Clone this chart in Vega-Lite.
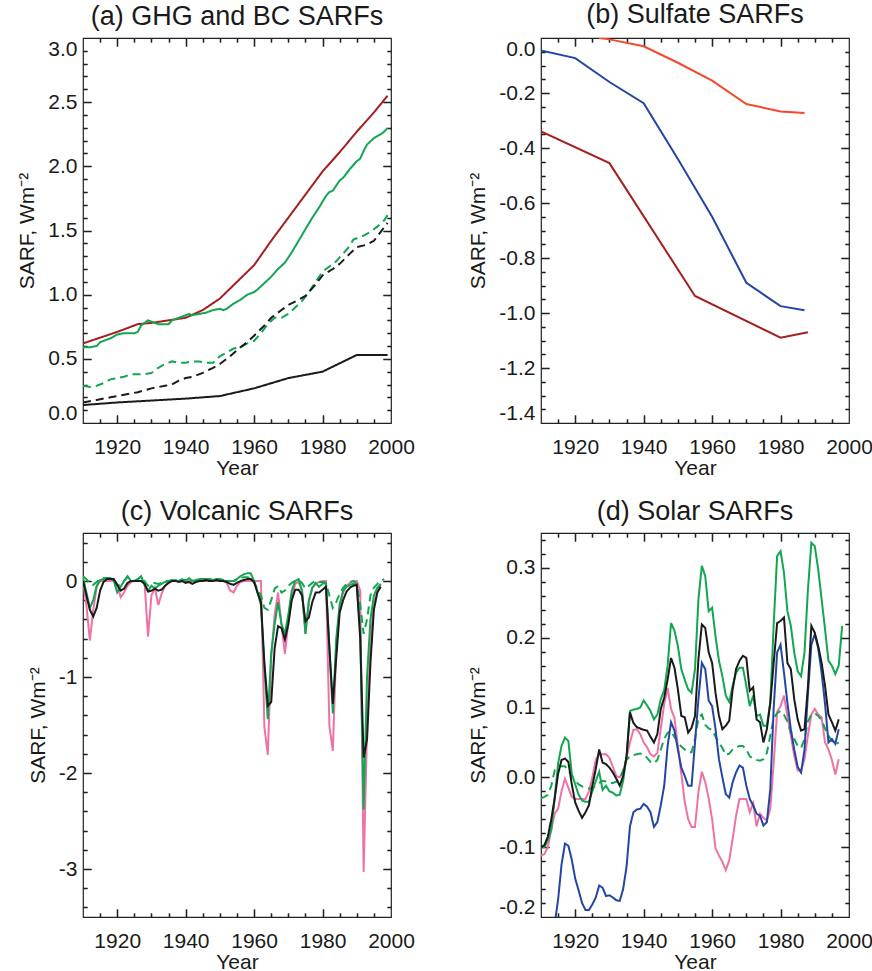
{
"$schema": "https://vega.github.io/schema/vega-lite/v6.json",
"background": "white",
"padding": {"left": 16, "top": 0, "right": 5, "bottom": 0},
"columns": 2,
"spacing": {"row": 18, "column": 52},
"resolve": {"scale": {"color": "independent", "strokeDash": "independent"}},
"config": {
  "font": "Liberation Sans",
  "view": {"stroke": "#222", "strokeWidth": 1.2},
  "title": {"font": "Liberation Sans", "fontSize": 27, "fontWeight": "normal", "color": "#1a1a1a", "offset": 6, "anchor": "middle"},
  "axis": {"domain": false, "grid": false, "tickColor": "#222", "tickWidth": 1.3, "gridColor": "#222", "gridWidth": 1.3, "gridOpacity": 1, "labelFont": "Liberation Sans", "labelFontSize": 21, "labelColor": "#1a1a1a", "titleFont": "Liberation Sans", "titleFontSize": 21, "titleFontWeight": "normal", "titleColor": "#1a1a1a", "labelFlush": false},
  "axisX": {"labelPadding": 13, "titlePadding": 0},
  "axisY": {"labelPadding": 6, "titlePadding": 10},
  "line": {"strokeWidth": 2}
},
"concat": [
{
 "width": 308, "height": 385,
 "title": "(a) GHG and BC SARFs",
 "data": {"name": "a"},
 "resolve": {"axis": {"x": "independent", "y": "independent"}},
 "layer": [
  {"mark": {"type": "line", "strokeWidth": 2, "clip": true},
   "encoding": {
    "x": {"field": "year", "type": "quantitative", "scale": {"domain": [1910, 2000], "nice": false, "zero": false}, "axis": {"orient": "bottom", "values": [1920,1940,1960,1980,2000], "format": "d", "title": "Year", "ticks": false, "tickSize": 0}},
    "y": {"field": "value", "type": "quantitative", "scale": {"domain": [0, 3], "nice": false, "zero": false}, "axis": {"orient": "left", "values": [0,0.5,1,1.5,2,2.5,3], "format": ".1f", "labelExpr": "replace(datum.label, '−', '-')", "labelFlush": true, "title": "SARF, Wm⁻²", "ticks": false, "tickSize": 0}},
    "color": {"field": "series", "type": "nominal", "scale": {"domain": ["red","green","greenDash","blackDash","black"], "range": ["#A41F1F","#12A650","#12A650","#1a1a1a","#1a1a1a"]}, "legend": null},
    "strokeDash": {"field": "series", "type": "nominal", "scale": {"domain": ["red","green","greenDash","blackDash","black"], "range": [[1,0],[1,0],[8,5],[8,5],[1,0]]}, "legend": null}
   }},
  {"mark": {"type": "point", "opacity": 0},
   "encoding": {
    "x": {"field": "year", "type": "quantitative", "axis": {"orient": "top", "values": [1920,1940,1960,1980], "labels": false, "title": null, "ticks": true, "tickSize": 8, "offset": -8, "grid": true, "gridDash": [8, 1000]}},
    "y": {"field": "value", "type": "quantitative", "axis": {"orient": "right", "values": [0.5,1,1.5,2,2.5], "labels": false, "title": null, "ticks": true, "tickSize": 8, "offset": -8, "grid": true, "gridDash": [8, 1000]}}
   }},
  {"mark": {"type": "point", "opacity": 0},
   "encoding": {
    "x": {"field": "year", "type": "quantitative", "axis": {"orient": "bottom", "values": [1920,1940,1960,1980], "labels": false, "title": null, "ticks": true, "tickSize": 8, "offset": -8, "grid": true, "gridDash": [8, 1000]}},
    "y": {"field": "value", "type": "quantitative", "axis": {"orient": "left", "values": [0.5,1,1.5,2,2.5], "labels": false, "title": null, "ticks": true, "tickSize": 8, "offset": -8, "grid": true, "gridDash": [8, 1000]}}
   }},
  {"mark": {"type": "point", "opacity": 0},
   "encoding": {
    "x": {"field": "year", "type": "quantitative", "axis": {"orient": "top", "values": [1915,1925,1930,1935,1945,1950,1955,1965,1970,1975,1985,1990,1995], "labels": false, "title": null, "ticks": true, "tickSize": 4, "offset": -4, "grid": true, "gridDash": [4, 1000]}},
    "y": {"field": "value", "type": "quantitative", "axis": {"orient": "right", "values": [0.1,0.2,0.3,0.4,0.6,0.7,0.8,0.9,1.1,1.2,1.3,1.4,1.6,1.7,1.8,1.9,2.1,2.2,2.3,2.4,2.6,2.7,2.8,2.9], "labels": false, "title": null, "ticks": true, "tickSize": 4, "offset": -4, "grid": true, "gridDash": [4, 1000]}}
   }},
  {"mark": {"type": "point", "opacity": 0},
   "encoding": {
    "x": {"field": "year", "type": "quantitative", "axis": {"orient": "bottom", "values": [1915,1925,1930,1935,1945,1950,1955,1965,1970,1975,1985,1990,1995], "labels": false, "title": null, "ticks": true, "tickSize": 4, "offset": -4, "grid": true, "gridDash": [4, 1000]}},
    "y": {"field": "value", "type": "quantitative", "axis": {"orient": "left", "values": [0.1,0.2,0.3,0.4,0.6,0.7,0.8,0.9,1.1,1.2,1.3,1.4,1.6,1.7,1.8,1.9,2.1,2.2,2.3,2.4,2.6,2.7,2.8,2.9], "labels": false, "title": null, "ticks": true, "tickSize": 4, "offset": -4, "grid": true, "gridDash": [4, 1000]}}
   }}
 ]
},
{
 "width": 308, "height": 385,
 "title": "(b) Sulfate SARFs",
 "data": {"name": "b"},
 "resolve": {"axis": {"x": "independent", "y": "independent"}},
 "layer": [
  {"mark": {"type": "line", "strokeWidth": 2, "clip": true},
   "encoding": {
    "x": {"field": "year", "type": "quantitative", "scale": {"domain": [1910, 2000], "nice": false, "zero": false}, "axis": {"orient": "bottom", "values": [1920,1940,1960,1980,2000], "format": "d", "title": "Year", "ticks": false, "tickSize": 0}},
    "y": {"field": "value", "type": "quantitative", "scale": {"domain": [-1.4, 0], "nice": false, "zero": false}, "axis": {"orient": "left", "values": [0,-0.2,-0.4,-0.6,-0.8,-1,-1.2,-1.4], "format": ".1f", "labelExpr": "replace(datum.label, '−', '-')", "labelFlush": true, "title": "SARF, Wm⁻²", "ticks": false, "tickSize": 0}},
    "color": {"field": "series", "type": "nominal", "scale": {"domain": ["orange","blue","red"], "range": ["#F4492D","#2446A3","#A41F1F"]}, "legend": null}
   }},
  {"mark": {"type": "point", "opacity": 0},
   "encoding": {
    "x": {"field": "year", "type": "quantitative", "axis": {"orient": "top", "values": [1920,1940,1960,1980], "labels": false, "title": null, "ticks": true, "tickSize": 8, "offset": -8, "grid": true, "gridDash": [8, 1000]}},
    "y": {"field": "value", "type": "quantitative", "axis": {"orient": "right", "values": [-0.2,-0.4,-0.6,-0.8,-1,-1.2], "labels": false, "title": null, "ticks": true, "tickSize": 8, "offset": -8, "grid": true, "gridDash": [8, 1000]}}
   }},
  {"mark": {"type": "point", "opacity": 0},
   "encoding": {
    "x": {"field": "year", "type": "quantitative", "axis": {"orient": "bottom", "values": [1920,1940,1960,1980], "labels": false, "title": null, "ticks": true, "tickSize": 8, "offset": -8, "grid": true, "gridDash": [8, 1000]}},
    "y": {"field": "value", "type": "quantitative", "axis": {"orient": "left", "values": [-0.2,-0.4,-0.6,-0.8,-1,-1.2], "labels": false, "title": null, "ticks": true, "tickSize": 8, "offset": -8, "grid": true, "gridDash": [8, 1000]}}
   }},
  {"mark": {"type": "point", "opacity": 0},
   "encoding": {
    "x": {"field": "year", "type": "quantitative", "axis": {"orient": "top", "values": [1915,1925,1930,1935,1945,1950,1955,1965,1970,1975,1985,1990,1995], "labels": false, "title": null, "ticks": true, "tickSize": 4, "offset": -4, "grid": true, "gridDash": [4, 1000]}},
    "y": {"field": "value", "type": "quantitative", "axis": {"orient": "right", "values": [-0.05,-0.1,-0.15,-0.25,-0.3,-0.35,-0.45,-0.5,-0.55,-0.65,-0.7,-0.75,-0.85,-0.9,-0.95,-1.05,-1.1,-1.15,-1.25,-1.3,-1.35], "labels": false, "title": null, "ticks": true, "tickSize": 4, "offset": -4, "grid": true, "gridDash": [4, 1000]}}
   }},
  {"mark": {"type": "point", "opacity": 0},
   "encoding": {
    "x": {"field": "year", "type": "quantitative", "axis": {"orient": "bottom", "values": [1915,1925,1930,1935,1945,1950,1955,1965,1970,1975,1985,1990,1995], "labels": false, "title": null, "ticks": true, "tickSize": 4, "offset": -4, "grid": true, "gridDash": [4, 1000]}},
    "y": {"field": "value", "type": "quantitative", "axis": {"orient": "left", "values": [-0.05,-0.1,-0.15,-0.25,-0.3,-0.35,-0.45,-0.5,-0.55,-0.65,-0.7,-0.75,-0.85,-0.9,-0.95,-1.05,-1.1,-1.15,-1.25,-1.3,-1.35], "labels": false, "title": null, "ticks": true, "tickSize": 4, "offset": -4, "grid": true, "gridDash": [4, 1000]}}
   }}
 ]
},
{
 "width": 308, "height": 384,
 "title": "(c) Volcanic SARFs",
 "data": {"name": "c"},
 "resolve": {"axis": {"x": "independent", "y": "independent"}},
 "layer": [
  {"mark": {"type": "line", "strokeWidth": 2, "clip": true},
   "encoding": {
    "x": {"field": "year", "type": "quantitative", "scale": {"domain": [1910, 2000], "nice": false, "zero": false}, "axis": {"orient": "bottom", "values": [1920,1940,1960,1980,2000], "format": "d", "title": "Year", "ticks": false, "tickSize": 0}},
    "y": {"field": "value", "type": "quantitative", "scale": {"domain": [-3.5, 0.5], "nice": false, "zero": false}, "axis": {"orient": "left", "values": [0,-1,-2,-3], "format": "d", "labelExpr": "replace(datum.label, '−', '-')", "labelFlush": true, "title": "SARF, Wm⁻²", "ticks": false, "tickSize": 0}},
    "color": {"field": "series", "type": "nominal", "scale": {"domain": ["pink","greenDash","green","black"], "range": ["#EE72A6","#12A650","#12A650","#1a1a1a"]}, "legend": null},
    "strokeDash": {"field": "series", "type": "nominal", "scale": {"domain": ["pink","greenDash","green","black"], "range": [[1,0],[8,5],[1,0],[1,0]]}, "legend": null}
   }},
  {"mark": {"type": "point", "opacity": 0},
   "encoding": {
    "x": {"field": "year", "type": "quantitative", "axis": {"orient": "top", "values": [1920,1940,1960,1980], "labels": false, "title": null, "ticks": true, "tickSize": 8, "offset": -8, "grid": true, "gridDash": [8, 1000]}},
    "y": {"field": "value", "type": "quantitative", "axis": {"orient": "right", "values": [0,-1,-2,-3], "labels": false, "title": null, "ticks": true, "tickSize": 8, "offset": -8, "grid": true, "gridDash": [8, 1000]}}
   }},
  {"mark": {"type": "point", "opacity": 0},
   "encoding": {
    "x": {"field": "year", "type": "quantitative", "axis": {"orient": "bottom", "values": [1920,1940,1960,1980], "labels": false, "title": null, "ticks": true, "tickSize": 8, "offset": -8, "grid": true, "gridDash": [8, 1000]}},
    "y": {"field": "value", "type": "quantitative", "axis": {"orient": "left", "values": [0,-1,-2,-3], "labels": false, "title": null, "ticks": true, "tickSize": 8, "offset": -8, "grid": true, "gridDash": [8, 1000]}}
   }},
  {"mark": {"type": "point", "opacity": 0},
   "encoding": {
    "x": {"field": "year", "type": "quantitative", "axis": {"orient": "top", "values": [1915,1925,1930,1935,1945,1950,1955,1965,1970,1975,1985,1990,1995], "labels": false, "title": null, "ticks": true, "tickSize": 4, "offset": -4, "grid": true, "gridDash": [4, 1000]}},
    "y": {"field": "value", "type": "quantitative", "axis": {"orient": "right", "values": [0.4,0.2,-0.2,-0.4,-0.6,-0.8,-1.2,-1.4,-1.6,-1.8,-2.2,-2.4,-2.6,-2.8,-3.2,-3.4], "labels": false, "title": null, "ticks": true, "tickSize": 4, "offset": -4, "grid": true, "gridDash": [4, 1000]}}
   }},
  {"mark": {"type": "point", "opacity": 0},
   "encoding": {
    "x": {"field": "year", "type": "quantitative", "axis": {"orient": "bottom", "values": [1915,1925,1930,1935,1945,1950,1955,1965,1970,1975,1985,1990,1995], "labels": false, "title": null, "ticks": true, "tickSize": 4, "offset": -4, "grid": true, "gridDash": [4, 1000]}},
    "y": {"field": "value", "type": "quantitative", "axis": {"orient": "left", "values": [0.4,0.2,-0.2,-0.4,-0.6,-0.8,-1.2,-1.4,-1.6,-1.8,-2.2,-2.4,-2.6,-2.8,-3.2,-3.4], "labels": false, "title": null, "ticks": true, "tickSize": 4, "offset": -4, "grid": true, "gridDash": [4, 1000]}}
   }}
 ]
},
{
 "width": 308, "height": 384,
 "title": "(d) Solar SARFs",
 "data": {"name": "d"},
 "resolve": {"axis": {"x": "independent", "y": "independent"}},
 "layer": [
  {"mark": {"type": "line", "strokeWidth": 2, "clip": true},
   "encoding": {
    "x": {"field": "year", "type": "quantitative", "scale": {"domain": [1910, 2000], "nice": false, "zero": false}, "axis": {"orient": "bottom", "values": [1920,1940,1960,1980,2000], "format": "d", "title": "Year", "ticks": false, "tickSize": 0}},
    "y": {"field": "value", "type": "quantitative", "scale": {"domain": [-0.2, 0.35], "nice": false, "zero": false}, "axis": {"orient": "left", "values": [0.3,0.2,0.1,0,-0.1,-0.2], "format": ".1f", "labelExpr": "replace(datum.label, '−', '-')", "labelFlush": true, "title": "SARF, Wm⁻²", "ticks": false, "tickSize": 0}},
    "color": {"field": "series", "type": "nominal", "scale": {"domain": ["pink","greenDash","blue","green","black"], "range": ["#EE72A6","#12A650","#2446A3","#12A650","#1a1a1a"]}, "legend": null},
    "strokeDash": {"field": "series", "type": "nominal", "scale": {"domain": ["pink","greenDash","blue","green","black"], "range": [[1,0],[8,5],[1,0],[1,0],[1,0]]}, "legend": null}
   }},
  {"mark": {"type": "point", "opacity": 0},
   "encoding": {
    "x": {"field": "year", "type": "quantitative", "axis": {"orient": "top", "values": [1920,1940,1960,1980], "labels": false, "title": null, "ticks": true, "tickSize": 8, "offset": -8, "grid": true, "gridDash": [8, 1000]}},
    "y": {"field": "value", "type": "quantitative", "axis": {"orient": "right", "values": [0.3,0.2,0.1,0,-0.1], "labels": false, "title": null, "ticks": true, "tickSize": 8, "offset": -8, "grid": true, "gridDash": [8, 1000]}}
   }},
  {"mark": {"type": "point", "opacity": 0},
   "encoding": {
    "x": {"field": "year", "type": "quantitative", "axis": {"orient": "bottom", "values": [1920,1940,1960,1980], "labels": false, "title": null, "ticks": true, "tickSize": 8, "offset": -8, "grid": true, "gridDash": [8, 1000]}},
    "y": {"field": "value", "type": "quantitative", "axis": {"orient": "left", "values": [0.3,0.2,0.1,0,-0.1], "labels": false, "title": null, "ticks": true, "tickSize": 8, "offset": -8, "grid": true, "gridDash": [8, 1000]}}
   }},
  {"mark": {"type": "point", "opacity": 0},
   "encoding": {
    "x": {"field": "year", "type": "quantitative", "axis": {"orient": "top", "values": [1915,1925,1930,1935,1945,1950,1955,1965,1970,1975,1985,1990,1995], "labels": false, "title": null, "ticks": true, "tickSize": 4, "offset": -4, "grid": true, "gridDash": [4, 1000]}},
    "y": {"field": "value", "type": "quantitative", "axis": {"orient": "right", "values": [0.34,0.32,0.28,0.26,0.24,0.22,0.18,0.16,0.14,0.12,0.08,0.06,0.04,0.02,-0.02,-0.04,-0.06,-0.08,-0.12,-0.14,-0.16,-0.18], "labels": false, "title": null, "ticks": true, "tickSize": 4, "offset": -4, "grid": true, "gridDash": [4, 1000]}}
   }},
  {"mark": {"type": "point", "opacity": 0},
   "encoding": {
    "x": {"field": "year", "type": "quantitative", "axis": {"orient": "bottom", "values": [1915,1925,1930,1935,1945,1950,1955,1965,1970,1975,1985,1990,1995], "labels": false, "title": null, "ticks": true, "tickSize": 4, "offset": -4, "grid": true, "gridDash": [4, 1000]}},
    "y": {"field": "value", "type": "quantitative", "axis": {"orient": "left", "values": [0.34,0.32,0.28,0.26,0.24,0.22,0.18,0.16,0.14,0.12,0.08,0.06,0.04,0.02,-0.02,-0.04,-0.06,-0.08,-0.12,-0.14,-0.16,-0.18], "labels": false, "title": null, "ticks": true, "tickSize": 4, "offset": -4, "grid": true, "gridDash": [4, 1000]}}
   }}
 ]
}
],
"datasets": {
"a": [
{"series":"red","year":1910,"value":0.62},{"series":"red","year":1915,"value":0.665},{"series":"red","year":1920,"value":0.71},{"series":"red","year":1926,"value":0.77},{"series":"red","year":1930,"value":0.78},{"series":"red","year":1935,"value":0.80},{"series":"red","year":1940,"value":0.82},{"series":"red","year":1945,"value":0.88},{"series":"red","year":1950,"value":0.97},{"series":"red","year":1955,"value":1.10},{"series":"red","year":1960,"value":1.23},{"series":"red","year":1965,"value":1.42},{"series":"red","year":1970,"value":1.60},{"series":"red","year":1975,"value":1.78},{"series":"red","year":1980,"value":1.96},{"series":"red","year":1985,"value":2.11},{"series":"red","year":1990,"value":2.27},{"series":"red","year":1995,"value":2.42},{"series":"red","year":1999,"value":2.55},
{"series":"green","year":1910,"value":0.59},{"series":"green","year":1912,"value":0.59},{"series":"green","year":1914,"value":0.60},{"series":"green","year":1915,"value":0.63},{"series":"green","year":1917,"value":0.65},{"series":"green","year":1918,"value":0.66},{"series":"green","year":1920,"value":0.69},{"series":"green","year":1922,"value":0.70},{"series":"green","year":1925,"value":0.70},{"series":"green","year":1926,"value":0.71},{"series":"green","year":1927,"value":0.76},{"series":"green","year":1929,"value":0.80},{"series":"green","year":1930,"value":0.79},{"series":"green","year":1932,"value":0.77},{"series":"green","year":1935,"value":0.77},{"series":"green","year":1936,"value":0.80},{"series":"green","year":1938,"value":0.82},{"series":"green","year":1940,"value":0.84},{"series":"green","year":1941,"value":0.85},{"series":"green","year":1942,"value":0.84},{"series":"green","year":1944,"value":0.85},{"series":"green","year":1946,"value":0.86},{"series":"green","year":1948,"value":0.88},{"series":"green","year":1950,"value":0.89},{"series":"green","year":1951,"value":0.88},{"series":"green","year":1952,"value":0.89},{"series":"green","year":1954,"value":0.93},{"series":"green","year":1956,"value":0.96},{"series":"green","year":1958,"value":1.00},{"series":"green","year":1960,"value":1.02},{"series":"green","year":1961,"value":1.04},{"series":"green","year":1963,"value":1.09},{"series":"green","year":1965,"value":1.14},{"series":"green","year":1967,"value":1.20},{"series":"green","year":1969,"value":1.25},{"series":"green","year":1971,"value":1.33},{"series":"green","year":1973,"value":1.42},{"series":"green","year":1975,"value":1.51},{"series":"green","year":1977,"value":1.60},{"series":"green","year":1979,"value":1.68},{"series":"green","year":1981,"value":1.77},{"series":"green","year":1982,"value":1.80},{"series":"green","year":1983,"value":1.81},{"series":"green","year":1985,"value":1.89},{"series":"green","year":1986,"value":1.91},{"series":"green","year":1988,"value":1.98},{"series":"green","year":1990,"value":2.04},{"series":"green","year":1991,"value":2.06},{"series":"green","year":1992,"value":2.12},{"series":"green","year":1993,"value":2.17},{"series":"green","year":1995,"value":2.22},{"series":"green","year":1997,"value":2.25},{"series":"green","year":1998,"value":2.27},{"series":"green","year":1999,"value":2.30},
{"series":"greenDash","year":1910,"value":0.29},{"series":"greenDash","year":1912,"value":0.28},{"series":"greenDash","year":1914,"value":0.29},{"series":"greenDash","year":1916,"value":0.31},{"series":"greenDash","year":1918,"value":0.34},{"series":"greenDash","year":1920,"value":0.35},{"series":"greenDash","year":1922,"value":0.36},{"series":"greenDash","year":1924,"value":0.38},{"series":"greenDash","year":1926,"value":0.38},{"series":"greenDash","year":1928,"value":0.38},{"series":"greenDash","year":1930,"value":0.39},{"series":"greenDash","year":1932,"value":0.43},{"series":"greenDash","year":1934,"value":0.46},{"series":"greenDash","year":1936,"value":0.48},{"series":"greenDash","year":1938,"value":0.47},{"series":"greenDash","year":1940,"value":0.47},{"series":"greenDash","year":1942,"value":0.48},{"series":"greenDash","year":1944,"value":0.48},{"series":"greenDash","year":1946,"value":0.47},{"series":"greenDash","year":1948,"value":0.47},{"series":"greenDash","year":1950,"value":0.52},{"series":"greenDash","year":1952,"value":0.55},{"series":"greenDash","year":1954,"value":0.58},{"series":"greenDash","year":1956,"value":0.59},{"series":"greenDash","year":1958,"value":0.62},{"series":"greenDash","year":1960,"value":0.64},{"series":"greenDash","year":1962,"value":0.70},{"series":"greenDash","year":1964,"value":0.77},{"series":"greenDash","year":1966,"value":0.82},{"series":"greenDash","year":1968,"value":0.82},{"series":"greenDash","year":1970,"value":0.85},{"series":"greenDash","year":1972,"value":0.90},{"series":"greenDash","year":1974,"value":0.95},{"series":"greenDash","year":1976,"value":1.02},{"series":"greenDash","year":1978,"value":1.10},{"series":"greenDash","year":1980,"value":1.18},{"series":"greenDash","year":1982,"value":1.22},{"series":"greenDash","year":1984,"value":1.26},{"series":"greenDash","year":1986,"value":1.32},{"series":"greenDash","year":1988,"value":1.38},{"series":"greenDash","year":1989,"value":1.43},{"series":"greenDash","year":1990,"value":1.44},{"series":"greenDash","year":1992,"value":1.46},{"series":"greenDash","year":1994,"value":1.49},{"series":"greenDash","year":1996,"value":1.53},{"series":"greenDash","year":1998,"value":1.58},{"series":"greenDash","year":1999,"value":1.62},
{"series":"blackDash","year":1910,"value":0.16},{"series":"blackDash","year":1914,"value":0.18},{"series":"blackDash","year":1918,"value":0.20},{"series":"blackDash","year":1922,"value":0.22},{"series":"blackDash","year":1926,"value":0.24},{"series":"blackDash","year":1930,"value":0.27},{"series":"blackDash","year":1934,"value":0.29},{"series":"blackDash","year":1936,"value":0.30},{"series":"blackDash","year":1938,"value":0.33},{"series":"blackDash","year":1940,"value":0.35},{"series":"blackDash","year":1942,"value":0.36},{"series":"blackDash","year":1945,"value":0.39},{"series":"blackDash","year":1948,"value":0.43},{"series":"blackDash","year":1950,"value":0.46},{"series":"blackDash","year":1953,"value":0.52},{"series":"blackDash","year":1956,"value":0.59},{"series":"blackDash","year":1958,"value":0.63},{"series":"blackDash","year":1960,"value":0.68},{"series":"blackDash","year":1963,"value":0.76},{"series":"blackDash","year":1965,"value":0.82},{"series":"blackDash","year":1968,"value":0.88},{"series":"blackDash","year":1970,"value":0.92},{"series":"blackDash","year":1973,"value":0.96},{"series":"blackDash","year":1975,"value":0.99},{"series":"blackDash","year":1978,"value":1.08},{"series":"blackDash","year":1980,"value":1.15},{"series":"blackDash","year":1983,"value":1.20},{"series":"blackDash","year":1985,"value":1.24},{"series":"blackDash","year":1988,"value":1.32},{"series":"blackDash","year":1990,"value":1.37},{"series":"blackDash","year":1993,"value":1.39},{"series":"blackDash","year":1995,"value":1.42},{"series":"blackDash","year":1997,"value":1.49},{"series":"blackDash","year":1999,"value":1.56},
{"series":"black","year":1910,"value":0.14},{"series":"black","year":1920,"value":0.16},{"series":"black","year":1930,"value":0.175},{"series":"black","year":1940,"value":0.19},{"series":"black","year":1950,"value":0.21},{"series":"black","year":1960,"value":0.27},{"series":"black","year":1970,"value":0.35},{"series":"black","year":1980,"value":0.40},{"series":"black","year":1990,"value":0.53},{"series":"black","year":1999,"value":0.53}
],
"b": [
{"series":"orange","year":1927,"value":0.0},{"series":"orange","year":1930,"value":-0.005},{"series":"orange","year":1940,"value":-0.03},{"series":"orange","year":1950,"value":-0.09},{"series":"orange","year":1960,"value":-0.155},{"series":"orange","year":1970,"value":-0.24},{"series":"orange","year":1980,"value":-0.267},{"series":"orange","year":1987,"value":-0.273},
{"series":"blue","year":1910,"value":-0.045},{"series":"blue","year":1920,"value":-0.073},{"series":"blue","year":1930,"value":-0.16},{"series":"blue","year":1940,"value":-0.237},{"series":"blue","year":1950,"value":-0.44},{"series":"blue","year":1960,"value":-0.65},{"series":"blue","year":1970,"value":-0.89},{"series":"blue","year":1980,"value":-0.975},{"series":"blue","year":1987,"value":-0.99},
{"series":"red","year":1910,"value":-0.34},{"series":"red","year":1930,"value":-0.455},{"series":"red","year":1955,"value":-0.938},{"series":"red","year":1980,"value":-1.09},{"series":"red","year":1988,"value":-1.07}
],
"c": [
{"series":"pink","year":1910,"value":0},{"series":"pink","year":1911,"value":-0.25},{"series":"pink","year":1912,"value":-0.62},{"series":"pink","year":1913,"value":-0.3},{"series":"pink","year":1914,"value":-0.06},{"series":"pink","year":1915,"value":0},{"series":"pink","year":1916,"value":0},{"series":"pink","year":1917,"value":0},{"series":"pink","year":1918,"value":0},{"series":"pink","year":1919,"value":0},{"series":"pink","year":1920,"value":-0.03},{"series":"pink","year":1921,"value":-0.17},{"series":"pink","year":1922,"value":-0.12},{"series":"pink","year":1923,"value":-0.05},{"series":"pink","year":1924,"value":-0.01},{"series":"pink","year":1925,"value":0},{"series":"pink","year":1926,"value":0},{"series":"pink","year":1927,"value":0},{"series":"pink","year":1928,"value":-0.02},{"series":"pink","year":1929,"value":-0.58},{"series":"pink","year":1930,"value":-0.15},{"series":"pink","year":1931,"value":-0.07},{"series":"pink","year":1932,"value":-0.25},{"series":"pink","year":1933,"value":-0.13},{"series":"pink","year":1934,"value":-0.05},{"series":"pink","year":1935,"value":-0.01},{"series":"pink","year":1936,"value":0},{"series":"pink","year":1937,"value":0},{"series":"pink","year":1938,"value":0},{"series":"pink","year":1939,"value":0},{"series":"pink","year":1940,"value":0},{"series":"pink","year":1941,"value":0},{"series":"pink","year":1942,"value":0},{"series":"pink","year":1943,"value":0},{"series":"pink","year":1944,"value":0},{"series":"pink","year":1945,"value":0},{"series":"pink","year":1946,"value":0},{"series":"pink","year":1947,"value":0},{"series":"pink","year":1948,"value":0},{"series":"pink","year":1949,"value":0},{"series":"pink","year":1950,"value":0},{"series":"pink","year":1951,"value":0},{"series":"pink","year":1952,"value":-0.02},{"series":"pink","year":1953,"value":-0.1},{"series":"pink","year":1954,"value":-0.12},{"series":"pink","year":1955,"value":-0.05},{"series":"pink","year":1956,"value":-0.01},{"series":"pink","year":1957,"value":0},{"series":"pink","year":1958,"value":0},{"series":"pink","year":1959,"value":0},{"series":"pink","year":1960,"value":0},{"series":"pink","year":1961,"value":0},{"series":"pink","year":1962,"value":0},{"series":"pink","year":1963,"value":-1.52},{"series":"pink","year":1964,"value":-1.81},{"series":"pink","year":1965,"value":-0.8},{"series":"pink","year":1966,"value":-0.35},{"series":"pink","year":1967,"value":-0.12},{"series":"pink","year":1968,"value":-0.45},{"series":"pink","year":1969,"value":-0.76},{"series":"pink","year":1970,"value":-0.43},{"series":"pink","year":1971,"value":-0.17},{"series":"pink","year":1972,"value":-0.03},{"series":"pink","year":1973,"value":-0.01},{"series":"pink","year":1974,"value":-0.1},{"series":"pink","year":1975,"value":-0.55},{"series":"pink","year":1976,"value":-0.22},{"series":"pink","year":1977,"value":-0.07},{"series":"pink","year":1978,"value":-0.03},{"series":"pink","year":1979,"value":-0.01},{"series":"pink","year":1980,"value":0},{"series":"pink","year":1981,"value":0},{"series":"pink","year":1982,"value":-1.51},{"series":"pink","year":1983,"value":-1.77},{"series":"pink","year":1984,"value":-0.7},{"series":"pink","year":1985,"value":-0.25},{"series":"pink","year":1986,"value":-0.12},{"series":"pink","year":1987,"value":-0.05},{"series":"pink","year":1988,"value":-0.02},{"series":"pink","year":1989,"value":0},{"series":"pink","year":1990,"value":0},{"series":"pink","year":1991,"value":-0.1},{"series":"pink","year":1992,"value":-3.03},{"series":"pink","year":1993,"value":-1.55},{"series":"pink","year":1994,"value":-0.6},{"series":"pink","year":1995,"value":-0.25},{"series":"pink","year":1996,"value":-0.1},{"series":"pink","year":1997,"value":-0.04},
{"series":"greenDash","year":1910,"value":0.05},{"series":"greenDash","year":1911,"value":0.02},{"series":"greenDash","year":1912,"value":-0.03},{"series":"greenDash","year":1913,"value":-0.04},{"series":"greenDash","year":1914,"value":-0.01},{"series":"greenDash","year":1915,"value":0.02},{"series":"greenDash","year":1916,"value":0.03},{"series":"greenDash","year":1917,"value":0.03},{"series":"greenDash","year":1918,"value":0.03},{"series":"greenDash","year":1919,"value":0.02},{"series":"greenDash","year":1920,"value":-0.05},{"series":"greenDash","year":1921,"value":-0.04},{"series":"greenDash","year":1922,"value":0.0},{"series":"greenDash","year":1923,"value":0.04},{"series":"greenDash","year":1924,"value":0.02},{"series":"greenDash","year":1925,"value":0.0},{"series":"greenDash","year":1926,"value":0.02},{"series":"greenDash","year":1927,"value":0.04},{"series":"greenDash","year":1928,"value":0.0},{"series":"greenDash","year":1929,"value":-0.05},{"series":"greenDash","year":1930,"value":-0.03},{"series":"greenDash","year":1931,"value":-0.02},{"series":"greenDash","year":1932,"value":-0.03},{"series":"greenDash","year":1933,"value":-0.02},{"series":"greenDash","year":1934,"value":0.0},{"series":"greenDash","year":1935,"value":0.0},{"series":"greenDash","year":1936,"value":0.01},{"series":"greenDash","year":1937,"value":0.01},{"series":"greenDash","year":1938,"value":0.0},{"series":"greenDash","year":1939,"value":0.01},{"series":"greenDash","year":1940,"value":0.01},{"series":"greenDash","year":1941,"value":0.02},{"series":"greenDash","year":1942,"value":0.0},{"series":"greenDash","year":1943,"value":0.01},{"series":"greenDash","year":1944,"value":0.02},{"series":"greenDash","year":1945,"value":0.02},{"series":"greenDash","year":1946,"value":0.02},{"series":"greenDash","year":1947,"value":0.02},{"series":"greenDash","year":1948,"value":0.02},{"series":"greenDash","year":1949,"value":0.02},{"series":"greenDash","year":1950,"value":0.02},{"series":"greenDash","year":1951,"value":0.01},{"series":"greenDash","year":1952,"value":0.01},{"series":"greenDash","year":1953,"value":0.0},{"series":"greenDash","year":1954,"value":0.0},{"series":"greenDash","year":1955,"value":0.01},{"series":"greenDash","year":1956,"value":0.03},{"series":"greenDash","year":1957,"value":0.04},{"series":"greenDash","year":1958,"value":0.04},{"series":"greenDash","year":1959,"value":0.03},{"series":"greenDash","year":1960,"value":-0.02},{"series":"greenDash","year":1961,"value":-0.08},{"series":"greenDash","year":1962,"value":-0.15},{"series":"greenDash","year":1963,"value":-0.28},{"series":"greenDash","year":1964,"value":-0.3},{"series":"greenDash","year":1965,"value":-0.2},{"series":"greenDash","year":1966,"value":-0.08},{"series":"greenDash","year":1967,"value":-0.05},{"series":"greenDash","year":1968,"value":-0.12},{"series":"greenDash","year":1969,"value":-0.1},{"series":"greenDash","year":1970,"value":-0.05},{"series":"greenDash","year":1971,"value":-0.02},{"series":"greenDash","year":1972,"value":0.0},{"series":"greenDash","year":1973,"value":0.01},{"series":"greenDash","year":1974,"value":-0.02},{"series":"greenDash","year":1975,"value":-0.08},{"series":"greenDash","year":1976,"value":-0.05},{"series":"greenDash","year":1977,"value":-0.02},{"series":"greenDash","year":1978,"value":0.0},{"series":"greenDash","year":1979,"value":-0.01},{"series":"greenDash","year":1980,"value":-0.01},{"series":"greenDash","year":1981,"value":-0.02},{"series":"greenDash","year":1982,"value":-0.15},{"series":"greenDash","year":1983,"value":-0.28},{"series":"greenDash","year":1984,"value":-0.22},{"series":"greenDash","year":1985,"value":-0.13},{"series":"greenDash","year":1986,"value":-0.07},{"series":"greenDash","year":1987,"value":-0.03},{"series":"greenDash","year":1988,"value":-0.01},{"series":"greenDash","year":1989,"value":0.0},{"series":"greenDash","year":1990,"value":-0.03},{"series":"greenDash","year":1991,"value":-0.25},{"series":"greenDash","year":1992,"value":-0.55},{"series":"greenDash","year":1993,"value":-0.4},{"series":"greenDash","year":1994,"value":-0.15},{"series":"greenDash","year":1995,"value":-0.07},{"series":"greenDash","year":1996,"value":-0.03},{"series":"greenDash","year":1997,"value":0.0},{"series":"greenDash","year":1998,"value":0.02},
{"series":"green","year":1910,"value":0.04},{"series":"green","year":1911,"value":-0.12},{"series":"green","year":1912,"value":-0.28},{"series":"green","year":1913,"value":-0.2},{"series":"green","year":1914,"value":-0.05},{"series":"green","year":1915,"value":0.01},{"series":"green","year":1916,"value":0.02},{"series":"green","year":1917,"value":0.03},{"series":"green","year":1918,"value":0.03},{"series":"green","year":1919,"value":0.0},{"series":"green","year":1920,"value":-0.12},{"series":"green","year":1921,"value":-0.06},{"series":"green","year":1922,"value":0.0},{"series":"green","year":1923,"value":0.05},{"series":"green","year":1924,"value":0.0},{"series":"green","year":1925,"value":0.0},{"series":"green","year":1926,"value":0.02},{"series":"green","year":1927,"value":0.05},{"series":"green","year":1928,"value":-0.04},{"series":"green","year":1929,"value":-0.1},{"series":"green","year":1930,"value":-0.05},{"series":"green","year":1931,"value":-0.08},{"series":"green","year":1932,"value":-0.05},{"series":"green","year":1933,"value":-0.03},{"series":"green","year":1934,"value":-0.01},{"series":"green","year":1935,"value":0.0},{"series":"green","year":1936,"value":0.0},{"series":"green","year":1937,"value":0.01},{"series":"green","year":1938,"value":0.0},{"series":"green","year":1939,"value":0.02},{"series":"green","year":1940,"value":0.0},{"series":"green","year":1941,"value":0.03},{"series":"green","year":1942,"value":0.0},{"series":"green","year":1943,"value":0.0},{"series":"green","year":1944,"value":0.02},{"series":"green","year":1945,"value":0.02},{"series":"green","year":1946,"value":0.02},{"series":"green","year":1947,"value":0.02},{"series":"green","year":1948,"value":0.01},{"series":"green","year":1949,"value":0.02},{"series":"green","year":1950,"value":0.02},{"series":"green","year":1951,"value":0.0},{"series":"green","year":1952,"value":0.0},{"series":"green","year":1953,"value":0.0},{"series":"green","year":1954,"value":0.0},{"series":"green","year":1955,"value":0.02},{"series":"green","year":1956,"value":0.05},{"series":"green","year":1957,"value":0.07},{"series":"green","year":1958,"value":0.08},{"series":"green","year":1959,"value":0.08},{"series":"green","year":1960,"value":0.0},{"series":"green","year":1961,"value":-0.12},{"series":"green","year":1962,"value":-0.25},{"series":"green","year":1963,"value":-0.9},{"series":"green","year":1964,"value":-1.44},{"series":"green","year":1965,"value":-0.75},{"series":"green","year":1966,"value":-0.45},{"series":"green","year":1967,"value":-0.22},{"series":"green","year":1968,"value":-0.45},{"series":"green","year":1969,"value":-0.55},{"series":"green","year":1970,"value":-0.35},{"series":"green","year":1971,"value":-0.1},{"series":"green","year":1972,"value":0.0},{"series":"green","year":1973,"value":0.02},{"series":"green","year":1974,"value":-0.1},{"series":"green","year":1975,"value":-0.55},{"series":"green","year":1976,"value":-0.2},{"series":"green","year":1977,"value":-0.07},{"series":"green","year":1978,"value":-0.02},{"series":"green","year":1979,"value":-0.06},{"series":"green","year":1980,"value":-0.03},{"series":"green","year":1981,"value":-0.02},{"series":"green","year":1982,"value":-0.7},{"series":"green","year":1983,"value":-1.38},{"series":"green","year":1984,"value":-0.6},{"series":"green","year":1985,"value":-0.25},{"series":"green","year":1986,"value":-0.1},{"series":"green","year":1987,"value":-0.06},{"series":"green","year":1988,"value":-0.04},{"series":"green","year":1989,"value":-0.03},{"series":"green","year":1990,"value":-0.05},{"series":"green","year":1991,"value":-0.5},{"series":"green","year":1992,"value":-2.38},{"series":"green","year":1993,"value":-1.0},{"series":"green","year":1994,"value":-0.4},{"series":"green","year":1995,"value":-0.15},{"series":"green","year":1996,"value":-0.07},{"series":"green","year":1997,"value":-0.03},
{"series":"black","year":1910,"value":0.0},{"series":"black","year":1911,"value":-0.15},{"series":"black","year":1912,"value":-0.3},{"series":"black","year":1913,"value":-0.37},{"series":"black","year":1914,"value":-0.28},{"series":"black","year":1915,"value":-0.1},{"series":"black","year":1916,"value":-0.01},{"series":"black","year":1917,"value":0.02},{"series":"black","year":1918,"value":0.02},{"series":"black","year":1919,"value":0.02},{"series":"black","year":1920,"value":-0.04},{"series":"black","year":1921,"value":-0.1},{"series":"black","year":1922,"value":-0.08},{"series":"black","year":1923,"value":-0.02},{"series":"black","year":1924,"value":0.0},{"series":"black","year":1925,"value":0.0},{"series":"black","year":1926,"value":0.0},{"series":"black","year":1927,"value":0.0},{"series":"black","year":1928,"value":-0.03},{"series":"black","year":1929,"value":-0.11},{"series":"black","year":1930,"value":-0.1},{"series":"black","year":1931,"value":-0.08},{"series":"black","year":1932,"value":-0.1},{"series":"black","year":1933,"value":-0.09},{"series":"black","year":1934,"value":-0.05},{"series":"black","year":1935,"value":-0.02},{"series":"black","year":1936,"value":0.0},{"series":"black","year":1937,"value":0.0},{"series":"black","year":1938,"value":-0.01},{"series":"black","year":1939,"value":0.0},{"series":"black","year":1940,"value":-0.02},{"series":"black","year":1941,"value":-0.01},{"series":"black","year":1942,"value":-0.03},{"series":"black","year":1943,"value":-0.01},{"series":"black","year":1944,"value":0.0},{"series":"black","year":1945,"value":0.0},{"series":"black","year":1946,"value":0.01},{"series":"black","year":1947,"value":0.0},{"series":"black","year":1948,"value":0.0},{"series":"black","year":1949,"value":0.01},{"series":"black","year":1950,"value":0.0},{"series":"black","year":1951,"value":0.0},{"series":"black","year":1952,"value":-0.01},{"series":"black","year":1953,"value":-0.03},{"series":"black","year":1954,"value":-0.04},{"series":"black","year":1955,"value":-0.02},{"series":"black","year":1956,"value":0.0},{"series":"black","year":1957,"value":0.01},{"series":"black","year":1958,"value":0.02},{"series":"black","year":1959,"value":0.02},{"series":"black","year":1960,"value":-0.01},{"series":"black","year":1961,"value":-0.12},{"series":"black","year":1962,"value":-0.22},{"series":"black","year":1963,"value":-0.85},{"series":"black","year":1964,"value":-1.3},{"series":"black","year":1965,"value":-1.26},{"series":"black","year":1966,"value":-0.7},{"series":"black","year":1967,"value":-0.47},{"series":"black","year":1968,"value":-0.49},{"series":"black","year":1969,"value":-0.61},{"series":"black","year":1970,"value":-0.45},{"series":"black","year":1971,"value":-0.2},{"series":"black","year":1972,"value":-0.09},{"series":"black","year":1973,"value":-0.09},{"series":"black","year":1974,"value":-0.15},{"series":"black","year":1975,"value":-0.42},{"series":"black","year":1976,"value":-0.38},{"series":"black","year":1977,"value":-0.22},{"series":"black","year":1978,"value":-0.12},{"series":"black","year":1979,"value":-0.12},{"series":"black","year":1980,"value":-0.09},{"series":"black","year":1981,"value":-0.06},{"series":"black","year":1982,"value":-0.7},{"series":"black","year":1983,"value":-1.28},{"series":"black","year":1984,"value":-0.8},{"series":"black","year":1985,"value":-0.33},{"series":"black","year":1986,"value":-0.2},{"series":"black","year":1987,"value":-0.11},{"series":"black","year":1988,"value":-0.07},{"series":"black","year":1989,"value":-0.05},{"series":"black","year":1990,"value":-0.04},{"series":"black","year":1991,"value":-0.6},{"series":"black","year":1992,"value":-1.84},{"series":"black","year":1993,"value":-1.65},{"series":"black","year":1994,"value":-0.85},{"series":"black","year":1995,"value":-0.3},{"series":"black","year":1996,"value":-0.12},{"series":"black","year":1997,"value":-0.06}
],
"d": [
{"series":"pink","year":1910,"value":-0.112},{"series":"pink","year":1911,"value":-0.11},{"series":"pink","year":1912,"value":-0.1},{"series":"pink","year":1913,"value":-0.075},{"series":"pink","year":1914,"value":-0.052},{"series":"pink","year":1915,"value":-0.045},{"series":"pink","year":1916,"value":-0.02},{"series":"pink","year":1917,"value":-0.002},{"series":"pink","year":1918,"value":-0.015},{"series":"pink","year":1919,"value":-0.028},{"series":"pink","year":1920,"value":-0.031},{"series":"pink","year":1921,"value":-0.031},{"series":"pink","year":1922,"value":-0.031},{"series":"pink","year":1923,"value":-0.031},{"series":"pink","year":1924,"value":-0.02},{"series":"pink","year":1925,"value":0.0},{"series":"pink","year":1926,"value":0.025},{"series":"pink","year":1927,"value":0.033},{"series":"pink","year":1928,"value":0.033},{"series":"pink","year":1929,"value":0.033},{"series":"pink","year":1930,"value":0.028},{"series":"pink","year":1931,"value":0.015},{"series":"pink","year":1932,"value":0.002},{"series":"pink","year":1933,"value":0.0},{"series":"pink","year":1934,"value":0.008},{"series":"pink","year":1935,"value":0.028},{"series":"pink","year":1936,"value":0.05},{"series":"pink","year":1937,"value":0.068},{"series":"pink","year":1938,"value":0.069},{"series":"pink","year":1939,"value":0.062},{"series":"pink","year":1940,"value":0.05},{"series":"pink","year":1941,"value":0.043},{"series":"pink","year":1942,"value":0.033},{"series":"pink","year":1943,"value":0.03},{"series":"pink","year":1944,"value":0.035},{"series":"pink","year":1945,"value":0.07},{"series":"pink","year":1946,"value":0.105},{"series":"pink","year":1947,"value":0.128},{"series":"pink","year":1948,"value":0.098},{"series":"pink","year":1949,"value":0.085},{"series":"pink","year":1950,"value":0.045},{"series":"pink","year":1951,"value":0.005},{"series":"pink","year":1952,"value":-0.035},{"series":"pink","year":1953,"value":-0.06},{"series":"pink","year":1954,"value":-0.071},{"series":"pink","year":1955,"value":-0.071},{"series":"pink","year":1956,"value":-0.021},{"series":"pink","year":1957,"value":0.008},{"series":"pink","year":1958,"value":-0.007},{"series":"pink","year":1959,"value":-0.03},{"series":"pink","year":1960,"value":-0.06},{"series":"pink","year":1961,"value":-0.102},{"series":"pink","year":1962,"value":-0.112},{"series":"pink","year":1963,"value":-0.121},{"series":"pink","year":1964,"value":-0.133},{"series":"pink","year":1965,"value":-0.119},{"series":"pink","year":1966,"value":-0.088},{"series":"pink","year":1967,"value":-0.055},{"series":"pink","year":1968,"value":-0.031},{"series":"pink","year":1969,"value":-0.031},{"series":"pink","year":1970,"value":-0.031},{"series":"pink","year":1971,"value":-0.05},{"series":"pink","year":1972,"value":-0.037},{"series":"pink","year":1973,"value":-0.07},{"series":"pink","year":1974,"value":-0.052},{"series":"pink","year":1975,"value":-0.058},{"series":"pink","year":1976,"value":-0.062},{"series":"pink","year":1977,"value":-0.045},{"series":"pink","year":1978,"value":0.021},{"series":"pink","year":1979,"value":0.094},{"series":"pink","year":1980,"value":0.102},{"series":"pink","year":1981,"value":0.117},{"series":"pink","year":1982,"value":0.088},{"series":"pink","year":1983,"value":0.06},{"series":"pink","year":1984,"value":0.031},{"series":"pink","year":1985,"value":0.01},{"series":"pink","year":1986,"value":0.01},{"series":"pink","year":1987,"value":0.026},{"series":"pink","year":1988,"value":0.06},{"series":"pink","year":1989,"value":0.09},{"series":"pink","year":1990,"value":0.098},{"series":"pink","year":1991,"value":0.09},{"series":"pink","year":1992,"value":0.086},{"series":"pink","year":1993,"value":0.05},{"series":"pink","year":1994,"value":0.04},{"series":"pink","year":1995,"value":0.025},{"series":"pink","year":1996,"value":0.004},{"series":"pink","year":1997,"value":0.026},
{"series":"greenDash","year":1910,"value":-0.03},{"series":"greenDash","year":1911,"value":-0.028},{"series":"greenDash","year":1912,"value":-0.025},{"series":"greenDash","year":1913,"value":-0.012},{"series":"greenDash","year":1914,"value":0.01},{"series":"greenDash","year":1915,"value":0.015},{"series":"greenDash","year":1916,"value":0.016},{"series":"greenDash","year":1917,"value":0.016},{"series":"greenDash","year":1918,"value":0.01},{"series":"greenDash","year":1919,"value":0.002},{"series":"greenDash","year":1920,"value":-0.005},{"series":"greenDash","year":1921,"value":-0.01},{"series":"greenDash","year":1922,"value":-0.013},{"series":"greenDash","year":1923,"value":-0.015},{"series":"greenDash","year":1924,"value":-0.016},{"series":"greenDash","year":1925,"value":-0.016},{"series":"greenDash","year":1926,"value":-0.012},{"series":"greenDash","year":1927,"value":-0.008},{"series":"greenDash","year":1928,"value":-0.005},{"series":"greenDash","year":1929,"value":-0.006},{"series":"greenDash","year":1930,"value":-0.008},{"series":"greenDash","year":1931,"value":-0.008},{"series":"greenDash","year":1932,"value":-0.006},{"series":"greenDash","year":1933,"value":-0.002},{"series":"greenDash","year":1934,"value":0.01},{"series":"greenDash","year":1935,"value":0.025},{"series":"greenDash","year":1936,"value":0.03},{"series":"greenDash","year":1937,"value":0.032},{"series":"greenDash","year":1938,"value":0.033},{"series":"greenDash","year":1939,"value":0.034},{"series":"greenDash","year":1940,"value":0.033},{"series":"greenDash","year":1941,"value":0.028},{"series":"greenDash","year":1942,"value":0.022},{"series":"greenDash","year":1943,"value":0.02},{"series":"greenDash","year":1944,"value":0.025},{"series":"greenDash","year":1945,"value":0.04},{"series":"greenDash","year":1946,"value":0.055},{"series":"greenDash","year":1947,"value":0.064},{"series":"greenDash","year":1948,"value":0.066},{"series":"greenDash","year":1949,"value":0.058},{"series":"greenDash","year":1950,"value":0.05},{"series":"greenDash","year":1951,"value":0.044},{"series":"greenDash","year":1952,"value":0.04},{"series":"greenDash","year":1953,"value":0.036},{"series":"greenDash","year":1954,"value":0.036},{"series":"greenDash","year":1955,"value":0.055},{"series":"greenDash","year":1956,"value":0.085},{"series":"greenDash","year":1957,"value":0.09},{"series":"greenDash","year":1958,"value":0.075},{"series":"greenDash","year":1959,"value":0.07},{"series":"greenDash","year":1960,"value":0.068},{"series":"greenDash","year":1961,"value":0.058},{"series":"greenDash","year":1962,"value":0.05},{"series":"greenDash","year":1963,"value":0.042},{"series":"greenDash","year":1964,"value":0.032},{"series":"greenDash","year":1965,"value":0.034},{"series":"greenDash","year":1966,"value":0.04},{"series":"greenDash","year":1967,"value":0.043},{"series":"greenDash","year":1968,"value":0.045},{"series":"greenDash","year":1969,"value":0.045},{"series":"greenDash","year":1970,"value":0.04},{"series":"greenDash","year":1971,"value":0.03},{"series":"greenDash","year":1972,"value":0.027},{"series":"greenDash","year":1973,"value":0.025},{"series":"greenDash","year":1974,"value":0.024},{"series":"greenDash","year":1975,"value":0.026},{"series":"greenDash","year":1976,"value":0.035},{"series":"greenDash","year":1977,"value":0.06},{"series":"greenDash","year":1978,"value":0.085},{"series":"greenDash","year":1979,"value":0.092},{"series":"greenDash","year":1980,"value":0.095},{"series":"greenDash","year":1981,"value":0.09},{"series":"greenDash","year":1982,"value":0.08},{"series":"greenDash","year":1983,"value":0.065},{"series":"greenDash","year":1984,"value":0.055},{"series":"greenDash","year":1985,"value":0.045},{"series":"greenDash","year":1986,"value":0.042},{"series":"greenDash","year":1987,"value":0.055},{"series":"greenDash","year":1988,"value":0.08},{"series":"greenDash","year":1989,"value":0.09},{"series":"greenDash","year":1990,"value":0.092},{"series":"greenDash","year":1991,"value":0.088},{"series":"greenDash","year":1992,"value":0.082},{"series":"greenDash","year":1993,"value":0.07},{"series":"greenDash","year":1994,"value":0.06},{"series":"greenDash","year":1995,"value":0.052},{"series":"greenDash","year":1996,"value":0.047},{"series":"greenDash","year":1997,"value":0.05},
{"series":"blue","year":1914,"value":-0.21},{"series":"blue","year":1915,"value":-0.175},{"series":"blue","year":1916,"value":-0.125},{"series":"blue","year":1917,"value":-0.095},{"series":"blue","year":1918,"value":-0.098},{"series":"blue","year":1919,"value":-0.118},{"series":"blue","year":1920,"value":-0.145},{"series":"blue","year":1921,"value":-0.162},{"series":"blue","year":1922,"value":-0.18},{"series":"blue","year":1923,"value":-0.19},{"series":"blue","year":1924,"value":-0.19},{"series":"blue","year":1925,"value":-0.182},{"series":"blue","year":1926,"value":-0.172},{"series":"blue","year":1927,"value":-0.155},{"series":"blue","year":1928,"value":-0.158},{"series":"blue","year":1929,"value":-0.17},{"series":"blue","year":1930,"value":-0.169},{"series":"blue","year":1931,"value":-0.172},{"series":"blue","year":1932,"value":-0.176},{"series":"blue","year":1933,"value":-0.177},{"series":"blue","year":1934,"value":-0.16},{"series":"blue","year":1935,"value":-0.128},{"series":"blue","year":1936,"value":-0.07},{"series":"blue","year":1937,"value":-0.05},{"series":"blue","year":1938,"value":-0.046},{"series":"blue","year":1939,"value":-0.045},{"series":"blue","year":1940,"value":-0.038},{"series":"blue","year":1941,"value":-0.042},{"series":"blue","year":1942,"value":-0.05},{"series":"blue","year":1943,"value":-0.071},{"series":"blue","year":1944,"value":-0.064},{"series":"blue","year":1945,"value":-0.04},{"series":"blue","year":1946,"value":-0.012},{"series":"blue","year":1947,"value":0.045},{"series":"blue","year":1948,"value":0.079},{"series":"blue","year":1949,"value":0.067},{"series":"blue","year":1950,"value":0.04},{"series":"blue","year":1951,"value":0.014},{"series":"blue","year":1952,"value":0.002},{"series":"blue","year":1953,"value":-0.012},{"series":"blue","year":1954,"value":-0.012},{"series":"blue","year":1955,"value":0.05},{"series":"blue","year":1956,"value":0.112},{"series":"blue","year":1957,"value":0.164},{"series":"blue","year":1958,"value":0.155},{"series":"blue","year":1959,"value":0.11},{"series":"blue","year":1960,"value":0.102},{"series":"blue","year":1961,"value":0.069},{"series":"blue","year":1962,"value":0.026},{"series":"blue","year":1963,"value":0.0},{"series":"blue","year":1964,"value":-0.024},{"series":"blue","year":1965,"value":-0.029},{"series":"blue","year":1966,"value":-0.007},{"series":"blue","year":1967,"value":0.007},{"series":"blue","year":1968,"value":0.017},{"series":"blue","year":1969,"value":0.014},{"series":"blue","year":1970,"value":-0.012},{"series":"blue","year":1971,"value":-0.031},{"series":"blue","year":1972,"value":-0.04},{"series":"blue","year":1973,"value":-0.052},{"series":"blue","year":1974,"value":-0.055},{"series":"blue","year":1975,"value":-0.069},{"series":"blue","year":1976,"value":-0.064},{"series":"blue","year":1977,"value":-0.017},{"series":"blue","year":1978,"value":0.1},{"series":"blue","year":1979,"value":0.179},{"series":"blue","year":1980,"value":0.19},{"series":"blue","year":1981,"value":0.15},{"series":"blue","year":1982,"value":0.107},{"series":"blue","year":1983,"value":0.069},{"series":"blue","year":1984,"value":0.04},{"series":"blue","year":1985,"value":0.015},{"series":"blue","year":1986,"value":0.007},{"series":"blue","year":1987,"value":0.04},{"series":"blue","year":1988,"value":0.12},{"series":"blue","year":1989,"value":0.19},{"series":"blue","year":1990,"value":0.205},{"series":"blue","year":1991,"value":0.185},{"series":"blue","year":1992,"value":0.15},{"series":"blue","year":1993,"value":0.105},{"series":"blue","year":1994,"value":0.05},{"series":"blue","year":1995,"value":0.055},{"series":"blue","year":1996,"value":0.048},{"series":"blue","year":1997,"value":0.069},
{"series":"green","year":1910,"value":-0.1},{"series":"green","year":1911,"value":-0.1},{"series":"green","year":1912,"value":-0.09},{"series":"green","year":1913,"value":-0.075},{"series":"green","year":1914,"value":-0.03},{"series":"green","year":1915,"value":0.02},{"series":"green","year":1916,"value":0.045},{"series":"green","year":1917,"value":0.057},{"series":"green","year":1918,"value":0.052},{"series":"green","year":1919,"value":0.005},{"series":"green","year":1920,"value":-0.01},{"series":"green","year":1921,"value":-0.025},{"series":"green","year":1922,"value":-0.033},{"series":"green","year":1923,"value":-0.035},{"series":"green","year":1924,"value":-0.035},{"series":"green","year":1925,"value":-0.02},{"series":"green","year":1926,"value":-0.005},{"series":"green","year":1927,"value":0.008},{"series":"green","year":1928,"value":-0.018},{"series":"green","year":1929,"value":-0.012},{"series":"green","year":1930,"value":-0.02},{"series":"green","year":1931,"value":-0.022},{"series":"green","year":1932,"value":-0.026},{"series":"green","year":1933,"value":-0.025},{"series":"green","year":1934,"value":-0.005},{"series":"green","year":1935,"value":0.03},{"series":"green","year":1936,"value":0.095},{"series":"green","year":1937,"value":0.097},{"series":"green","year":1938,"value":0.098},{"series":"green","year":1939,"value":0.1},{"series":"green","year":1940,"value":0.11},{"series":"green","year":1941,"value":0.103},{"series":"green","year":1942,"value":0.095},{"series":"green","year":1943,"value":0.083},{"series":"green","year":1944,"value":0.09},{"series":"green","year":1945,"value":0.112},{"series":"green","year":1946,"value":0.125},{"series":"green","year":1947,"value":0.16},{"series":"green","year":1948,"value":0.221},{"series":"green","year":1949,"value":0.21},{"series":"green","year":1950,"value":0.188},{"series":"green","year":1951,"value":0.155},{"series":"green","year":1952,"value":0.14},{"series":"green","year":1953,"value":0.126},{"series":"green","year":1954,"value":0.121},{"series":"green","year":1955,"value":0.155},{"series":"green","year":1956,"value":0.255},{"series":"green","year":1957,"value":0.303},{"series":"green","year":1958,"value":0.288},{"series":"green","year":1959,"value":0.238},{"series":"green","year":1960,"value":0.243},{"series":"green","year":1961,"value":0.202},{"series":"green","year":1962,"value":0.167},{"series":"green","year":1963,"value":0.145},{"series":"green","year":1964,"value":0.117},{"series":"green","year":1965,"value":0.108},{"series":"green","year":1966,"value":0.131},{"series":"green","year":1967,"value":0.15},{"series":"green","year":1968,"value":0.157},{"series":"green","year":1969,"value":0.157},{"series":"green","year":1970,"value":0.131},{"series":"green","year":1971,"value":0.102},{"series":"green","year":1972,"value":0.117},{"series":"green","year":1973,"value":0.088},{"series":"green","year":1974,"value":0.09},{"series":"green","year":1975,"value":0.074},{"series":"green","year":1976,"value":0.074},{"series":"green","year":1977,"value":0.107},{"series":"green","year":1978,"value":0.22},{"series":"green","year":1979,"value":0.317},{"series":"green","year":1980,"value":0.324},{"series":"green","year":1981,"value":0.293},{"series":"green","year":1982,"value":0.238},{"series":"green","year":1983,"value":0.217},{"series":"green","year":1984,"value":0.179},{"series":"green","year":1985,"value":0.152},{"series":"green","year":1986,"value":0.145},{"series":"green","year":1987,"value":0.179},{"series":"green","year":1988,"value":0.269},{"series":"green","year":1989,"value":0.336},{"series":"green","year":1990,"value":0.331},{"series":"green","year":1991,"value":0.298},{"series":"green","year":1992,"value":0.255},{"series":"green","year":1993,"value":0.212},{"series":"green","year":1994,"value":0.167},{"series":"green","year":1995,"value":0.16},{"series":"green","year":1996,"value":0.148},{"series":"green","year":1997,"value":0.16},{"series":"green","year":1998,"value":0.217},
{"series":"black","year":1910,"value":-0.1},{"series":"black","year":1911,"value":-0.097},{"series":"black","year":1912,"value":-0.085},{"series":"black","year":1913,"value":-0.06},{"series":"black","year":1914,"value":-0.03},{"series":"black","year":1915,"value":0.005},{"series":"black","year":1916,"value":0.025},{"series":"black","year":1917,"value":0.027},{"series":"black","year":1918,"value":0.022},{"series":"black","year":1919,"value":-0.01},{"series":"black","year":1920,"value":-0.036},{"series":"black","year":1921,"value":-0.048},{"series":"black","year":1922,"value":-0.058},{"series":"black","year":1923,"value":-0.05},{"series":"black","year":1924,"value":-0.04},{"series":"black","year":1925,"value":-0.012},{"series":"black","year":1926,"value":0.012},{"series":"black","year":1927,"value":0.04},{"series":"black","year":1928,"value":0.021},{"series":"black","year":1929,"value":0.019},{"series":"black","year":1930,"value":0.014},{"series":"black","year":1931,"value":0.007},{"series":"black","year":1932,"value":-0.002},{"series":"black","year":1933,"value":-0.012},{"series":"black","year":1934,"value":0.002},{"series":"black","year":1935,"value":0.03},{"series":"black","year":1936,"value":0.093},{"series":"black","year":1937,"value":0.078},{"series":"black","year":1938,"value":0.072},{"series":"black","year":1939,"value":0.07},{"series":"black","year":1940,"value":0.068},{"series":"black","year":1941,"value":0.067},{"series":"black","year":1942,"value":0.058},{"series":"black","year":1943,"value":0.05},{"series":"black","year":1944,"value":0.062},{"series":"black","year":1945,"value":0.098},{"series":"black","year":1946,"value":0.114},{"series":"black","year":1947,"value":0.14},{"series":"black","year":1948,"value":0.171},{"series":"black","year":1949,"value":0.157},{"series":"black","year":1950,"value":0.126},{"series":"black","year":1951,"value":0.088},{"series":"black","year":1952,"value":0.086},{"series":"black","year":1953,"value":0.064},{"series":"black","year":1954,"value":0.071},{"series":"black","year":1955,"value":0.088},{"series":"black","year":1956,"value":0.169},{"series":"black","year":1957,"value":0.219},{"series":"black","year":1958,"value":0.214},{"series":"black","year":1959,"value":0.179},{"series":"black","year":1960,"value":0.164},{"series":"black","year":1961,"value":0.121},{"series":"black","year":1962,"value":0.088},{"series":"black","year":1963,"value":0.069},{"series":"black","year":1964,"value":0.074},{"series":"black","year":1965,"value":0.081},{"series":"black","year":1966,"value":0.126},{"series":"black","year":1967,"value":0.155},{"series":"black","year":1968,"value":0.167},{"series":"black","year":1969,"value":0.174},{"series":"black","year":1970,"value":0.171},{"series":"black","year":1971,"value":0.124},{"series":"black","year":1972,"value":0.129},{"series":"black","year":1973,"value":0.083},{"series":"black","year":1974,"value":0.079},{"series":"black","year":1975,"value":0.05},{"series":"black","year":1976,"value":0.069},{"series":"black","year":1977,"value":0.107},{"series":"black","year":1978,"value":0.164},{"series":"black","year":1979,"value":0.221},{"series":"black","year":1980,"value":0.224},{"series":"black","year":1981,"value":0.229},{"series":"black","year":1982,"value":0.164},{"series":"black","year":1983,"value":0.155},{"series":"black","year":1984,"value":0.112},{"series":"black","year":1985,"value":0.083},{"series":"black","year":1986,"value":0.067},{"series":"black","year":1987,"value":0.069},{"series":"black","year":1988,"value":0.13},{"series":"black","year":1989,"value":0.217},{"series":"black","year":1990,"value":0.207},{"series":"black","year":1991,"value":0.188},{"series":"black","year":1992,"value":0.164},{"series":"black","year":1993,"value":0.131},{"series":"black","year":1994,"value":0.09},{"series":"black","year":1995,"value":0.079},{"series":"black","year":1996,"value":0.067},{"series":"black","year":1997,"value":0.083}
]
}
}
